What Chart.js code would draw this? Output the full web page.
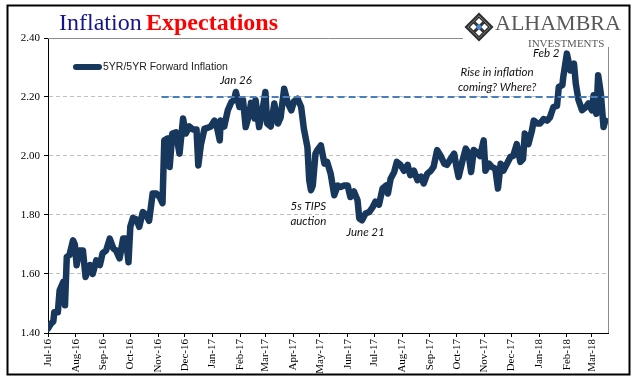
<!DOCTYPE html>
<html>
<head>
<meta charset="utf-8">
<title>Inflation Expectations</title>
<script src="https://cdn.jsdelivr.net/npm/chart.js@4.4.1/dist/chart.umd.min.js"></script>
<style>
  html, body { margin: 0; padding: 0; background: #fff; }
  #wrap { width: 641px; height: 381px; }
</style>
</head>
<body>
<div id="wrap"><canvas id="chart" width="641" height="381"></canvas></div>
<script>
'use strict';

// ── Data ──────────────────────────────────────────────────────
// x = days since 1 Jul 2016, y = 5YR/5YR forward inflation (%)
const days = [
  0, 3, 6, 7, 11, 13, 17, 19, 21, 24, 28, 30, 32, 35, 39, 42, 47, 50, 54, 58,
  61, 65, 69, 73, 76, 80, 84, 87, 90, 92, 95, 99, 102, 106, 110, 113, 117, 121, 125, 128,
  130, 134, 136, 139, 143, 147, 151, 154, 158, 162, 166, 168, 171, 175, 178, 182, 186, 188, 192, 193,
  197, 201, 205, 208, 210, 214, 218, 221, 225, 227, 231, 232, 236, 240, 243, 245, 249, 253, 257, 260,
  264, 268, 272, 275, 279, 283, 286, 290, 292, 294, 296, 299, 301, 305, 309, 312, 316, 320, 324, 327,
  331, 335, 338, 342, 346, 348, 351, 355, 359, 363, 366, 370, 374, 378, 380, 383, 387, 390, 394, 398,
  402, 405, 409, 413, 417, 420, 424, 428, 431, 435, 439, 443, 446, 450, 454, 457, 459, 463, 467, 470,
  473, 476, 480, 483, 487, 489, 493, 496, 500, 503, 506, 509, 513, 517, 520, 524, 528, 531, 533, 537,
  541, 543, 547, 550, 554, 558, 561, 565, 569, 571, 575, 576, 580, 584, 588, 590, 593, 597, 601, 604,
  608, 610, 613, 615, 618, 621, 623
];
const fwdInflation = [
  1.415, 1.43, 1.44, 1.47, 1.47, 1.545, 1.573, 1.494, 1.658, 1.664, 1.714, 1.70, 1.63, 1.68, 1.68, 1.59, 1.63, 1.60, 1.646, 1.63,
  1.67, 1.68, 1.72, 1.687, 1.68, 1.653, 1.72, 1.72, 1.64, 1.76, 1.79, 1.785, 1.76, 1.81, 1.80, 1.78, 1.873, 1.873, 1.86, 1.84,
  2.053, 2.06, 1.963, 2.076, 2.08, 2.008, 2.127, 2.076, 2.10, 2.09, 2.09, 1.968, 2.04, 2.093, 2.095, 2.10, 2.12, 2.11, 2.053, 2.12,
  2.10, 2.155, 2.183, 2.19, 2.217, 2.166, 2.19, 2.098, 2.143, 2.18, 2.127, 2.19, 2.098, 2.16, 2.217, 2.11, 2.10, 2.178, 2.11, 2.13,
  2.228, 2.18, 2.155, 2.185, 2.194, 2.166, 2.093, 2.03, 1.918, 1.884, 1.90, 2.008, 2.02, 2.036, 1.974, 1.98, 1.94, 1.867, 1.90, 1.895,
  1.90, 1.90, 1.861, 1.88, 1.85, 1.788, 1.782, 1.805, 1.81, 1.827, 1.845, 1.835, 1.89, 1.90, 1.873, 1.923, 1.946, 1.98, 1.97, 1.95,
  1.97, 1.935, 1.95, 1.918, 1.93, 1.907, 1.94, 1.95, 1.963, 2.02, 2.00, 1.974, 1.97, 1.99, 2.008, 1.957, 1.929, 1.98, 2.025, 2.01,
  1.946, 2.02, 2.01, 2.00, 2.053, 1.95, 1.974, 1.963, 1.957, 1.89, 1.974, 1.95, 1.974, 1.997, 2.00, 2.04, 1.98, 1.99, 2.076, 2.04,
  2.087, 2.12, 2.11, 2.11, 2.125, 2.12, 2.13, 2.166, 2.17, 2.234, 2.24, 2.268, 2.347, 2.29, 2.313, 2.245, 2.19, 2.155, 2.165, 2.178,
  2.155, 2.206, 2.143, 2.274, 2.211, 2.098, 2.12
];

// month starts (days since 1 Jul 2016) and their labels
const monthDays   = [0, 31, 62, 92, 123, 153, 184, 215, 243, 274, 304, 335, 365, 396, 427, 457, 488, 518, 549, 580, 608];
const monthLabels = ['Jul-16', 'Aug-16', 'Sep-16', 'Oct-16', 'Nov-16', 'Dec-16', 'Jan-17', 'Feb-17', 'Mar-17', 'Apr-17',
                     'May-17', 'Jun-17', 'Jul-17', 'Aug-17', 'Sep-17', 'Oct-17', 'Nov-17', 'Dec-17', 'Jan-18', 'Feb-18', 'Mar-18'];

const yMin = 1.40, yMax = 2.40, yStep = 0.20;

// dashed reference level
const refLevel = 2.20;
const refDays  = [127, 626];

// annotations, anchored in data units: [text, day, value]
const notes = [
  ['Jan 26', 210, 2.257],
  ['5s TIPS', 291, 1.829],
  ['auction', 291, 1.779],
  ['June 21', 355, 1.742],
  ['Rise in inflation', 502, 2.283],
  ['coming? Where?', 502, 2.232],
  ['Feb 2', 557, 2.349],
];

// ── Styling ───────────────────────────────────────────────────
const NAVY   = '#18375d';
const SERIF  = '"Liberation Serif", "Times New Roman", serif';
const SANS   = '"Liberation Sans", Arial, sans-serif';

function diamond(ctx, cx, cy, r) {
  ctx.beginPath();
  ctx.moveTo(cx, cy - r);
  ctx.lineTo(cx + r, cy);
  ctx.lineTo(cx, cy + r);
  ctx.lineTo(cx - r, cy);
  ctx.closePath();
}

function drawLogo(ctx) {
  ctx.save();
  ctx.fillStyle = '#fff';
  ctx.fillRect(463, 6, 166, 41);

  const cx = 479, cy = 27;
  diamond(ctx, cx, cy, 14.5);
  ctx.fillStyle = '#2b2b2b';
  ctx.fill();
  diamond(ctx, cx, cy, 11.5);
  ctx.fillStyle = '#fff';
  ctx.fill();
  ctx.strokeStyle = '#2b2b2b';
  ctx.lineWidth = 1.6;
  [[-5.5, 0], [5.5, 0], [0, -5.5], [0, 5.5]].forEach(([dx, dy]) => {
    diamond(ctx, cx + dx, cy + dy, 4.5);
    ctx.stroke();
  });
  diamond(ctx, cx, cy, 3.4);
  ctx.fillStyle = '#4a86c8';
  ctx.fill();

  ctx.fillStyle = '#595959';
  ctx.textBaseline = 'alphabetic';
  ctx.textAlign = 'left';
  ctx.font = '22px ' + SERIF;
  ctx.fillText('ALHAMBRA', 495, 30);
  ctx.font = '11px ' + SERIF;
  ctx.fillText('INVESTMENTS', 528, 46.5);
  ctx.restore();
}

const framePlugin = {
  id: 'frame',
  beforeDraw(chart) {
    const { ctx, width, height } = chart;
    ctx.save();
    ctx.fillStyle = '#fff';
    ctx.fillRect(0, 0, width, height);
    ctx.restore();
  },
  beforeDatasetsDraw(chart) {
    const { ctx, chartArea: a } = chart;
    ctx.save();
    ctx.strokeStyle = '#8c8c8c';
    ctx.lineWidth = 1;
    ctx.beginPath();
    ctx.moveTo(a.left, a.top + 0.5);
    ctx.lineTo(a.right + 0.5, a.top + 0.5);
    ctx.lineTo(a.right + 0.5, a.bottom);
    ctx.stroke();
    ctx.restore();
  },
  afterDraw(chart) {
    const { ctx, scales } = chart;
    ctx.save();

    // title
    ctx.textBaseline = 'alphabetic';
    ctx.textAlign = 'left';
    ctx.font = '24px ' + SERIF;
    ctx.fillStyle = '#14148c';
    ctx.fillText('Inflation', 59, 30);
    ctx.font = 'bold 24px ' + SERIF;
    ctx.fillStyle = '#ff0000';
    ctx.fillText('Expectations', 146, 30);

    // legend
    ctx.strokeStyle = NAVY;
    ctx.lineWidth = 6;
    ctx.lineCap = 'round';
    ctx.beginPath();
    ctx.moveTo(76, 67);
    ctx.lineTo(99, 67);
    ctx.stroke();
    ctx.font = '10.5px ' + SANS;
    ctx.fillStyle = '#222';
    ctx.textBaseline = 'middle';
    ctx.fillText('5YR/5YR Forward Inflation', 103, 67.5);

    // annotations
    ctx.font = 'italic 11.5px Lato, "Open Sans", sans-serif';
    ctx.fillStyle = '#111';
    ctx.textAlign = 'center';
    notes.forEach(([text, d, v]) => {
      ctx.fillText(text, scales.x.getPixelForValue(d), scales.y.getPixelForValue(v));
    });
    ctx.restore();

    drawLogo(ctx);

    // outer frame
    ctx.save();
    ctx.strokeStyle = '#000';
    ctx.lineWidth = 2;
    ctx.strokeRect(7.5, 5.5, 622, 369);
    ctx.restore();
  },
};

const isEdge = v => Math.abs(v - yMax) < 1e-6 || Math.abs(v - yMin) < 1e-6;

new Chart(document.getElementById('chart'), {
  type: 'line',
  data: {
    datasets: [
      {
        label: 'ref',
        data: refDays.map(d => ({ x: d, y: refLevel })),
        borderColor: '#4a7ebb',
        borderWidth: 2,
        borderDash: [7, 4],
        pointRadius: 0,
        order: 1,
      },
      {
        label: '5YR/5YR Forward Inflation',
        data: days.map((d, i) => ({ x: d, y: fwdInflation[i] })),
        borderColor: NAVY,
        borderWidth: 6.5,
        borderCapStyle: 'round',
        borderJoinStyle: 'round',
        pointRadius: 0,
        tension: 0,
        order: 2,
      },
    ],
  },
  options: {
    responsive: false,
    animation: false,
    devicePixelRatio: 1,
    layout: { padding: { top: 38, right: 33, left: 0, bottom: 0 } },
    plugins: {
      legend: { display: false },
      title: { display: false },
      tooltip: { enabled: false },
    },
    scales: {
      x: {
        type: 'linear',
        min: 0,
        max: 626,
        afterBuildTicks: axis => { axis.ticks = monthDays.map(v => ({ value: v })); },
        afterFit: axis => { axis.height = 48; },
        grid: { drawOnChartArea: false, tickLength: 4, color: '#000', tickColor: '#000' },
        border: { display: true, color: '#000', width: 1 },
        ticks: {
          autoSkip: false,
          maxRotation: 90,
          minRotation: 90,
          padding: 2,
          color: '#000',
          font: { family: SERIF, size: 11 },
          callback: v => monthLabels[monthDays.indexOf(v)],
        },
      },
      y: {
        min: yMin,
        max: yMax,
        afterFit: axis => { axis.width = 48; },
        grid: {
          color: ctx => (isEdge(ctx.tick.value) ? 'rgba(0,0,0,0)' : '#c0c0c0'),
          tickColor: '#000',
          tickLength: 4,
          tickBorderDash: [],
        },
        border: { display: true, color: '#000', width: 1, dash: [4, 3] },
        ticks: {
          stepSize: yStep,
          padding: 4,
          color: '#000',
          font: { family: SERIF, size: 11 },
          callback: v => v.toFixed(2),
        },
      },
    },
  },
  plugins: [framePlugin],
});
</script>
</body>
</html>
